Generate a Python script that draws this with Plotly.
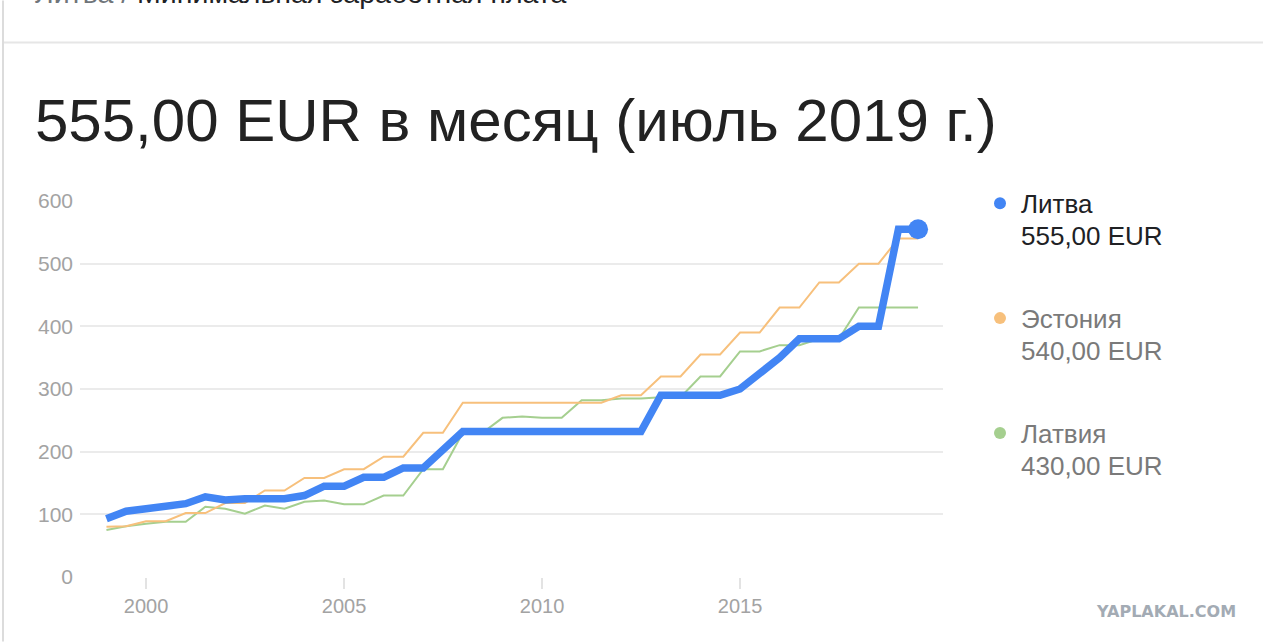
import plotly.graph_objects as go

# ---- data (semi-annual: January / July, 1999 .. July 2019) ----
countries = ["Литва", "Эстония", "Латвия"]
latest_labels = ["555,00 EUR", "540,00 EUR", "430,00 EUR"]
lithuania = [93, 105, 109, 114, 117, 128, 123, 125, 125, 125,
             130, 145, 145, 159, 159, 174, 174, 203, 232, 232,
             232, 232, 232, 232, 232, 232, 232, 232, 290, 290,
             290, 290, 300, 325, 350, 380, 380, 380, 400, 400,
             555, 555]
estonia = [80, 81, 89, 89, 102, 102, 118, 118, 138, 138,
           158, 158, 172, 172, 192, 192, 230, 230, 278, 278,
           278, 278, 278, 278, 278, 278, 290, 290, 320, 320,
           355, 355, 390, 390, 430, 430, 470, 470, 500, 500,
           540, 540]
latvia = [75, 81, 85, 88, 88, 112, 109, 101, 114, 109,
          120, 122, 116, 116, 130, 130, 172, 172, 230, 230,
          254, 256, 254, 254, 282, 282, 285, 285, 287, 287,
          320, 320, 360, 360, 370, 370, 380, 380, 430, 430,
          430, 430]
dates = [f"{1999 + i // 2}-{'01' if i % 2 == 0 else '07'}-01" for i in range(len(lithuania))]
tick_years = ["2000", "2005", "2010", "2015"]
y_ticks = [0, 100, 200, 300, 400, 500, 600]

title_text = "555,00 EUR в месяц (июль 2019 г.)"

colors = ["#4285f4", "#f7c07c", "#a5cf8f"]
text_colors = ["#202124", "#7a7a7a", "#7a7a7a"]

W, H = 1263, 642
L, R, T, B = 80, 943, 200.7, 577.3
FONT = "Liberation Sans, Arial, sans-serif"


def py(p):
    """pixel y -> paper y"""
    return (B - p) / (B - T)


def px(p):
    """pixel x -> paper x"""
    return (p - L) / (R - L)


fig = go.Figure()
series = [latvia, estonia, lithuania]
order = [2, 1, 0]
for idx, vals in zip(order, series):
    fig.add_trace(go.Scatter(
        x=dates, y=vals, mode="lines", name=countries[idx],
        line=dict(color=colors[idx], width=7.5 if idx == 0 else 2),
        showlegend=False, hoverinfo="skip",
    ))
# end marker for Lithuania
fig.add_trace(go.Scatter(
    x=[dates[-1]], y=[lithuania[-1]], mode="markers",
    marker=dict(color=colors[0], size=20), showlegend=False, hoverinfo="skip",
))

annotations = []
shapes = []

# breadcrumb (cut at top edge, as in the source screenshot)
annotations.append(dict(
    xref="paper", yref="paper", x=px(33), y=py(10), xanchor="left", yanchor="bottom",
    text="<span style='color:#70757a'>Литва /</span> Минимальная заработная плата",
    showarrow=False, font=dict(family=FONT, size=28.5, color="#202124"),
))
# title
annotations.append(dict(
    xref="paper", yref="paper", x=px(33), y=py(120), xanchor="left", yanchor="middle",
    text=title_text, showarrow=False,
    font=dict(family=FONT, size=60, color="#222222"),
))
# legend
leg_y = [203, 318, 433]
for i in range(3):
    shapes.append(dict(
        type="circle", xref="paper", yref="paper",
        x0=px(994), x1=px(1006), y0=py(leg_y[i] - 6), y1=py(leg_y[i] + 6),
        fillcolor=colors[i], line=dict(width=0),
    ))
    annotations.append(dict(
        xref="paper", yref="paper", x=px(1019), y=py(leg_y[i] + 1), xanchor="left",
        yanchor="middle", text=countries[i], showarrow=False,
        font=dict(family=FONT, size=26, color=text_colors[i]),
    ))
    annotations.append(dict(
        xref="paper", yref="paper", x=px(1019), y=py(leg_y[i] + 33), xanchor="left",
        yanchor="middle", text=latest_labels[i], showarrow=False,
        font=dict(family=FONT, size=26, color=text_colors[i]),
    ))
# watermark
annotations.append(dict(
    xref="paper", yref="paper", x=px(1238), y=py(612), xanchor="right", yanchor="middle",
    text="<b>YAPLAKAL.COM</b>", showarrow=False,
    font=dict(family="DejaVu Sans, sans-serif", size=16, color="#a3abb4"),
))

# card borders
shapes.append(dict(type="line", xref="paper", yref="paper",
                   x0=px(3), x1=px(1263), y0=py(42), y1=py(42),
                   line=dict(color="#e6e6e6", width=2)))
shapes.append(dict(type="line", xref="paper", yref="paper",
                   x0=px(3), x1=px(3), y0=py(0), y1=py(642),
                   line=dict(color="#dcdcdc", width=2)))

fig.update_layout(
    width=W, height=H,
    margin=dict(l=L, r=W - R, t=T, b=H - B),
    paper_bgcolor="white", plot_bgcolor="white",
    font=dict(family=FONT),
    annotations=annotations, shapes=shapes,
    xaxis=dict(
        type="date",
        range=["1998-05-02", "2020-02-16"],
        tickvals=[f"{y}-01-01" for y in tick_years],
        ticktext=tick_years,
        showgrid=False, zeroline=False, showline=False,
        ticks="outside", ticklen=11, tickwidth=1.5, tickcolor="#e3e3e3",
        tickfont=dict(family=FONT, size=20, color="#a3a3a3"),
        fixedrange=True,
    ),
    yaxis=dict(
        range=[0, 600], tickvals=y_ticks,
        showgrid=True, gridcolor="#ebebeb", gridwidth=2,
        zeroline=False, showline=False, ticks="",
        tickfont=dict(family=FONT, size=21, color="#a3a3a3"),
        ticklabelstandoff=6,
        fixedrange=True,
    ),
)

fig.write_html(
    "out.html",
    config={"displayModeBar": False},
    post_script="document.body.style.margin='0';document.body.style.overflow='hidden';",
)
